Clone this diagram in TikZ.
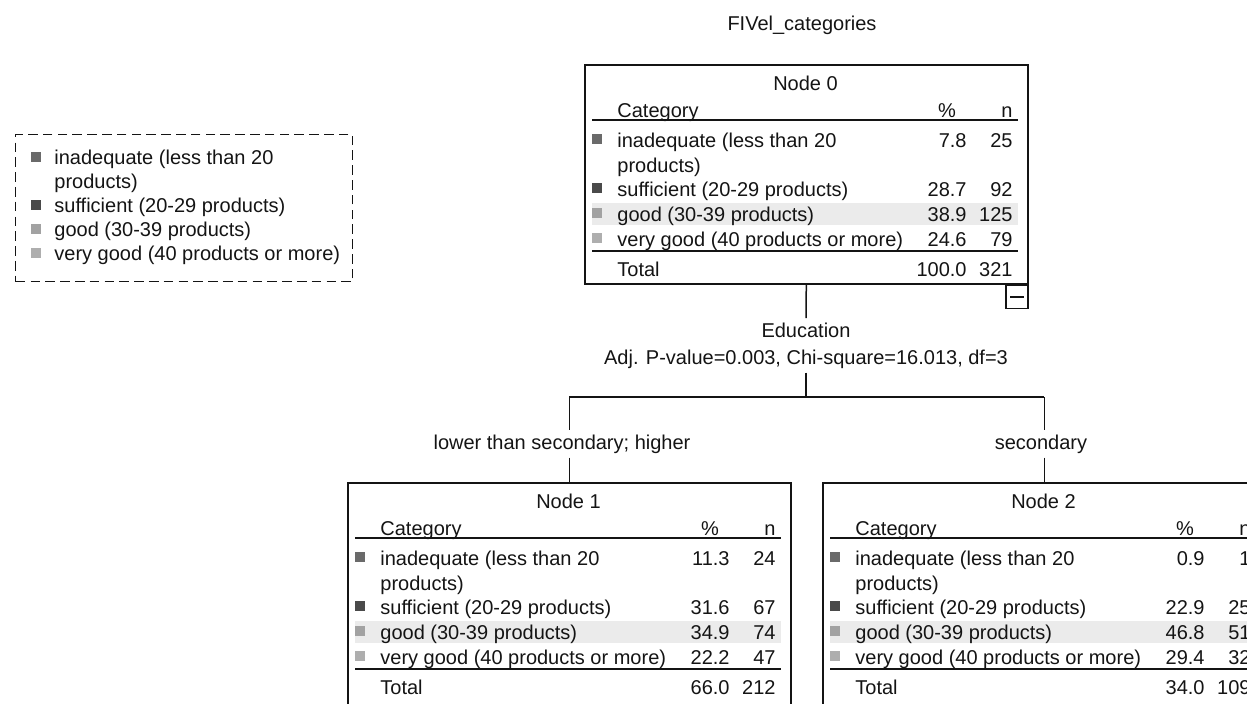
\documentclass[tikz,border=0pt]{standalone}
\usepackage{fontspec}
\setmainfont{Liberation Sans}
\usetikzlibrary{positioning, calc}
\definecolor{ink}{HTML}{141414}
\definecolor{sqinadq}{HTML}{6A6A6A}
\definecolor{sqsuff}{HTML}{4A4A4A}
\definecolor{sqgood}{HTML}{A2A2A2}
\definecolor{sqvgood}{HTML}{AEAEAE}
\definecolor{modalbg}{HTML}{EBEBEB}

\begin{document}
\begin{tikzpicture}[x=0.5pt, y=-0.5pt,
    every node/.style={font=\fontsize{10pt}{12pt}\selectfont, text=ink, inner sep=2pt},
    tbox/.style={draw=ink, line width=0.8pt, anchor=north west, inner sep=0pt, minimum width=221.5pt, minimum height=109.5pt},
    legbox/.style={draw=ink, line width=0.7pt, dash pattern=on 4.8pt off 2.6pt, anchor=north west, inner sep=0pt, minimum width=168.5pt, minimum height=73.5pt},
    lt/.style={anchor=base west},
    rt/.style={anchor=base east},
    ct/.style={anchor=base},
    rule/.style={draw=ink, line width=0.9pt},
    conn/.style={draw=ink, line width=0.75pt},
    modal/.style={fill=modalbg}
]
    \useasboundingbox (0,0) rectangle (1247,703);
    \clip (0,0) rectangle (1247,703);

    % ===== Legend =====
    \node[legbox] (leg) at (15,134) {};
    \foreach \yy/\sq/\lab [count=\i] in {164/sqinadq/{inadequate (less than 20}, 212/sqsuff/{sufficient (20-29 products)}, 236/sqgood/{good (30-39 products)}, 260/sqvgood/{very good (40 products or more)}} {
        \fill[\sq] (31,\yy-12) rectangle (41,\yy-2);
        \node[lt] (leg\i) at (50,\yy) {\lab};
    }
    \node[lt] (leg1b) at (50,188) {products)};

    % ===== Node 0 =====
    \node[ct] (title) at (802,30) {FIVel\_categories};
    \begin{scope}[shift={(584,64)}]
        \node[tbox] (n0) at (0,0) {};
        \fill[modal] (8,139) rectangle (434,161);
        \node[ct] (n0t) at (221.5,26) {Node 0};
        \node[lt] (n0c) at (29,53) {Category};
        \node[ct] (n0p) at (363,53) {\%};
        \node[rt] (n0n) at (433,53) {n};
        \draw[rule] (8,56) -- (434,56);
        \foreach \yy/\sq/\lab/\pc/\nn [count=\i] in {83/sqinadq/{inadequate (less than 20}/7.8/25, 132/sqsuff/{sufficient (20-29 products)}/28.7/92, 157/sqgood/{good (30-39 products)}/38.9/125, 182/sqvgood/{very good (40 products or more)}/24.6/79} {
            \fill[\sq] (8,\yy-13) rectangle (18,\yy-3);
            \node[lt] (n0r\i) at (29,\yy) {\lab};
            \node[rt] (n0p\i) at (387,\yy) {\pc};
            \node[rt] (n0n\i) at (433,\yy) {\nn};
        }
        \node[lt] (n0r1b) at (29,108) {products)};
        \draw[rule] (8,187) -- (434,187);
        \node[lt] (n0tot) at (29,212) {Total};
        \node[rt] (n0totp) at (387,212) {100.0};
        \node[rt] (n0totn) at (433,212) {321};
    \end{scope}
    \node[draw=ink, line width=0.7pt, anchor=north east, inner sep=0pt, minimum width=11pt, minimum height=11.5pt] (n0m) at (n0.south east) {};
    \draw[ink, line width=0.7pt] ([xshift=2.5pt]n0m.west) -- ([xshift=-2.5pt]n0m.east);

    % ===== Node 1 =====
    \begin{scope}[shift={(347,482)}]
        \node[tbox, minimum height=112pt] (n1) at (0,0) {};
        \fill[modal] (8,139) rectangle (434,161);
        \node[ct] (n1t) at (221.5,26) {Node 1};
        \node[lt] (n1c) at (29,53) {Category};
        \node[ct] (n1p) at (363,53) {\%};
        \node[rt] (n1n) at (433,53) {n};
        \draw[rule] (8,56) -- (434,56);
        \foreach \yy/\sq/\lab/\pc/\nn [count=\i] in {83/sqinadq/{inadequate (less than 20}/11.3/24, 132/sqsuff/{sufficient (20-29 products)}/31.6/67, 157/sqgood/{good (30-39 products)}/34.9/74, 182/sqvgood/{very good (40 products or more)}/22.2/47} {
            \fill[\sq] (8,\yy-13) rectangle (18,\yy-3);
            \node[lt] (n1r\i) at (29,\yy) {\lab};
            \node[rt] (n1p\i) at (387,\yy) {\pc};
            \node[rt] (n1n\i) at (433,\yy) {\nn};
        }
        \node[lt] (n1r1b) at (29,108) {products)};
        \draw[rule] (8,187) -- (434,187);
        \node[lt] (n1tot) at (29,212) {Total};
        \node[rt] (n1totp) at (387,212) {66.0};
        \node[rt] (n1totn) at (433,212) {212};
    \end{scope}

    % ===== Node 2 =====
    \begin{scope}[shift={(822,482)}]
        \node[tbox, minimum height=112pt] (n2) at (0,0) {};
        \fill[modal] (8,139) rectangle (434,161);
        \node[ct] (n2t) at (221.5,26) {Node 2};
        \node[lt] (n2c) at (29,53) {Category};
        \node[ct] (n2p) at (363,53) {\%};
        \node[rt] (n2n) at (433,53) {n};
        \draw[rule] (8,56) -- (434,56);
        \foreach \yy/\sq/\lab/\pc/\nn [count=\i] in {83/sqinadq/{inadequate (less than 20}/0.9/1, 132/sqsuff/{sufficient (20-29 products)}/22.9/25, 157/sqgood/{good (30-39 products)}/46.8/51, 182/sqvgood/{very good (40 products or more)}/29.4/32} {
            \fill[\sq] (8,\yy-13) rectangle (18,\yy-3);
            \node[lt] (n2r\i) at (29,\yy) {\lab};
            \node[rt] (n2p\i) at (387,\yy) {\pc};
            \node[rt] (n2n\i) at (433,\yy) {\nn};
        }
        \node[lt] (n2r1b) at (29,108) {products)};
        \draw[rule] (8,187) -- (434,187);
        \node[lt] (n2tot) at (29,212) {Total};
        \node[rt] (n2totp) at (387,212) {34.0};
        \node[rt] (n2totn) at (433,212) {109};
    \end{scope}

    % ===== Split =====
    \node[ct] (edu) at (806,337) {Education};
    \node[ct] (stat) at (806,364) {Adj. P-value=0.003, Chi-square=16.013, df=3};
    \coordinate (bar) at (806,397);
    \node[ct] (br1) at (562,449) {lower than secondary; higher};
    \node[ct] (br2) at (1041,449) {secondary};
    \draw[conn] (n0.south) -- (edu.north);
    \draw[conn] (stat.south) -- (bar);
    \draw[conn] (n1.north |- bar) -- (n2.north |- bar);
    \draw[conn] (n1.north |- bar) -- (n1.north |- br1.north);
    \draw[conn] (n1.north |- br1.south) -- (n1.north);
    \draw[conn] (n2.north |- bar) -- (n2.north |- br2.north);
    \draw[conn] (n2.north |- br2.south) -- (n2.north);
\end{tikzpicture}
\end{document}
